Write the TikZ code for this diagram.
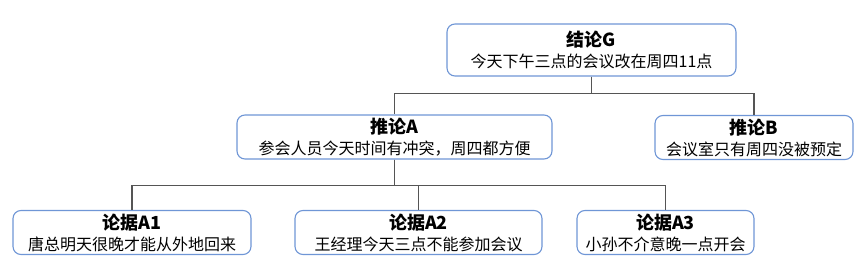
\documentclass[tikz,border=0pt]{standalone}
\usepackage{fontspec}
\setmainfont{Noto Sans CJK SC}
\usepackage{tikz}
\definecolor{boxblue}{HTML}{6F96D6}
\definecolor{linegray}{HTML}{555555}

\begin{document}
\begin{tikzpicture}[
  x=1pt, y=-1pt,
  claim/.style={
    draw=boxblue,
    line width=1.1pt,
    rounded corners=8pt,
    fill=white,
    minimum height=44pt,
    inner sep=0pt,
    align=center,
    font=\fontsize{16}{21}\selectfont
  },
  link/.style={draw=linegray, line width=1.3pt}
]
  \useasboundingbox (0,0) rectangle (864,270);

  \node[claim, minimum width=289pt, minimum height=52pt] (g) at (591.5,50)
    {{\fontsize{18}{21}\selectfont\bfseries 结论G}\\今天下午三点的会议改在周四11点};
  \node[claim, minimum width=315pt] (a) at (394.5,137)
    {{\fontsize{18}{21}\selectfont\bfseries 推论A}\\参会人员今天时间有冲突，周四都方便};
  \node[claim, minimum width=198pt] (b) at (754,137.5)
    {{\fontsize{18}{21}\selectfont\bfseries 推论B}\\会议室只有周四没被预定};

  \node[claim, minimum width=238pt] (a1) at (132,232.5)
    {{\fontsize{18}{21}\selectfont\bfseries 论据A1}\\唐总明天很晚才能从外地回来};
  \node[claim, minimum width=247pt] (a2) at (418.5,232.5)
    {{\fontsize{18}{21}\selectfont\bfseries 论据A2}\\王经理今天三点不能参加会议};
  \node[claim, minimum width=177pt] (a3) at (665.5,232.5)
    {{\fontsize{18}{21}\selectfont\bfseries 论据A3}\\小孙不介意晚一点开会};

  \draw[link] (g.south) -- ++(0,17) -| (a.north);
  \draw[link] (g.south) -- ++(0,17) -| (b.north);
  \draw[link] (a.south) -- ++(0,26) -| (a1.north);
  \draw[link] (a.south) -- ++(0,26) -| (a2.north);
  \draw[link] (a.south) -- ++(0,26) -| (a3.north);
\end{tikzpicture}
\end{document}
